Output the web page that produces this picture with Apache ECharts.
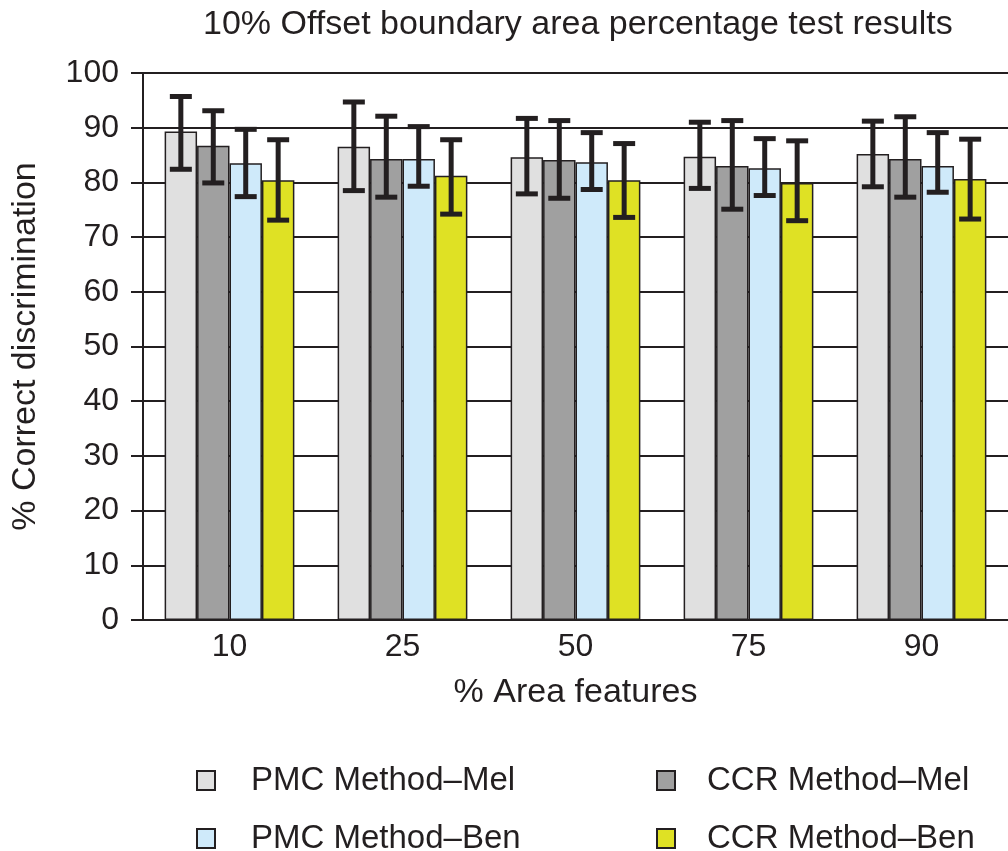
<!DOCTYPE html>
<html>
<head>
<meta charset="utf-8">
<script src="https://cdn.jsdelivr.net/npm/echarts@6/dist/echarts.min.js"></script>
<style>
  html, body { margin: 0; padding: 0; background: #fff; }
  #chart { width: 1008px; height: 851px; }
</style>
</head>
<body>
<div id="chart"></div>
<script>
// categories (% area features)
const categories = ["10", "25", "50", "75", "90"];

// bar means
const pmcMel = [89.3, 86.5, 84.6, 84.7, 85.2];
const ccrMel = [86.7, 84.3, 84.1, 83.0, 84.3];
const pmcBen = [83.5, 84.3, 83.7, 82.6, 83.0];
const ccrBen = [80.4, 81.2, 80.4, 79.9, 80.6];

// error bar ends (upper / lower)
const pmcMelHi = [95.7, 94.7, 91.7, 91.0, 91.2];
const pmcMelLo = [82.4, 78.5, 77.9, 78.9, 79.2];
const ccrMelHi = [93.1, 92.1, 91.3, 91.3, 92.0];
const ccrMelLo = [79.9, 77.3, 77.1, 75.1, 77.3];
const pmcBenHi = [89.7, 90.2, 89.1, 88.0, 89.1];
const pmcBenLo = [77.4, 79.3, 78.7, 77.6, 78.2];
const ccrBenHi = [87.8, 87.8, 87.1, 87.6, 87.9];
const ccrBenLo = [73.1, 74.2, 73.6, 73.0, 73.3];

const seriesNames = ["PMC Method–Mel", "CCR Method–Mel", "PMC Method–Ben", "CCR Method–Ben"];
const seriesColors = ["#e0e0e0", "#a0a0a0", "#cfeafa", "#dfe124"];

const ink = "#231f20";
const font = "Liberation Sans";
const catGap = 0.25; // share of the band left empty

const chart = echarts.init(document.getElementById("chart"));

const barSeries = (name, values, color) => ({
    name: name,
    type: "bar",
    data: values,
    barGap: "0%",
    barCategoryGap: "25%",
    itemStyle: { color: color, borderColor: ink, borderWidth: 1.5 },
    z: 3
});

// draws whisker + caps for bar number idx of each group
const errorSeries = (idx, hi, lo) => ({
    type: "custom",
    data: hi.map((h, i) => [i, h, lo[i]]),
    encode: { x: 0, y: [1, 2] },
    z: 5,
    silent: true,
    renderItem: function (params, api) {
        const top = api.coord([api.value(0), api.value(1)]);
        const bot = api.coord([api.value(0), api.value(2)]);
        const band = api.size([1, 0])[0];
        const group = band * (1 - catGap);
        const w = group / 4;
        const x = top[0] - group / 2 + w * (idx + 0.5);
        const half = 11;
        const style = { stroke: ink, lineWidth: 5 };
        return {
            type: "group",
            children: [
                { type: "line", shape: { x1: x, y1: top[1], x2: x, y2: bot[1] }, style: style },
                { type: "line", shape: { x1: x - half, y1: top[1], x2: x + half, y2: top[1] }, style: style },
                { type: "line", shape: { x1: x - half, y1: bot[1], x2: x + half, y2: bot[1] }, style: style }
            ]
        };
    }
});

const legendItem = (name, left, top, pad) => ({
    data: [name],
    left: left,
    top: top,
    icon: "rect",
    itemWidth: 18,
    itemHeight: 19,
    selectedMode: false,
    itemStyle: { borderWidth: 2 },
    textStyle: { fontFamily: font, fontSize: 33, color: ink, padding: [0, 0, 0, pad] }
});

const option = {
    backgroundColor: "#fff",
    animation: false,
    title: {
        text: "10% Offset boundary area percentage test results",
        left: 198,
        top: 3,
        textStyle: { fontFamily: font, fontSize: 34, fontWeight: "normal", color: ink }
    },
    legend: [
        legendItem(seriesNames[0], 191, 759, 31),
        legendItem(seriesNames[1], 651, 759, 27),
        legendItem(seriesNames[2], 191, 817, 31),
        legendItem(seriesNames[3], 651, 817, 27)
    ],
    grid: { left: 143, top: 73, width: 869, height: 547 },
    xAxis: {
        type: "category",
        data: categories,
        name: "% Area features",
        nameLocation: "middle",
        nameGap: 56,
        nameTextStyle: { fontFamily: font, fontSize: 34, color: ink },
        axisLine: { lineStyle: { color: ink, width: 2 } },
        axisTick: { show: false },
        axisLabel: { fontFamily: font, fontSize: 32, color: ink, margin: 11 }
    },
    yAxis: {
        type: "value",
        min: 0,
        max: 100,
        interval: 10,
        name: "% Correct discrimination",
        nameLocation: "middle",
        nameGap: 100,
        nameTextStyle: { fontFamily: font, fontSize: 34, color: ink },
        axisLine: { show: true, lineStyle: { color: ink, width: 2 } },
        axisTick: { show: true, length: 12, lineStyle: { color: ink, width: 2 } },
        axisLabel: { fontFamily: font, fontSize: 32, color: ink, margin: 24 },
        splitLine: { show: true, lineStyle: { color: ink, width: 2 } }
    },
    series: [
        barSeries(seriesNames[0], pmcMel, seriesColors[0]),
        barSeries(seriesNames[1], ccrMel, seriesColors[1]),
        barSeries(seriesNames[2], pmcBen, seriesColors[2]),
        barSeries(seriesNames[3], ccrBen, seriesColors[3]),
        errorSeries(0, pmcMelHi, pmcMelLo),
        errorSeries(1, ccrMelHi, ccrMelLo),
        errorSeries(2, pmcBenHi, pmcBenLo),
        errorSeries(3, ccrBenHi, ccrBenLo)
    ]
};

chart.setOption(option);
</script>
</body>
</html>
